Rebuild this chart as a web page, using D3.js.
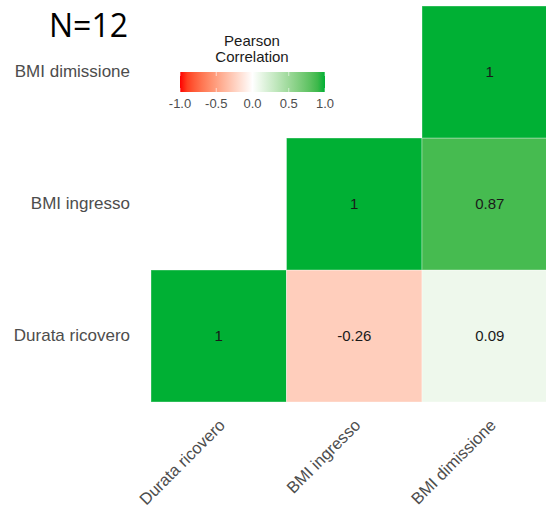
<!DOCTYPE html>
<html>
<head>
<meta charset="utf-8">
<script src="https://cdn.jsdelivr.net/npm/d3@7"></script>
<style>
  html, body { margin: 0; padding: 0; background: #fff; }
  svg { display: block; }
</style>
</head>
<body>
<svg id="chart" width="546" height="513"></svg>
<script>
// Variables of the correlation matrix (x left→right, y bottom→top)
const variables = ["Durata ricovero", "BMI ingresso", "BMI dimissione"];
// Upper-triangle cells: column variable, row variable, Pearson r
const cellX = ["Durata ricovero", "BMI ingresso", "BMI dimissione", "BMI ingresso", "BMI dimissione", "BMI dimissione"];
const cellY = ["Durata ricovero", "Durata ricovero", "Durata ricovero", "BMI ingresso", "BMI ingresso", "BMI dimissione"];
const cellR = [1, -0.26, 0.09, 1, 0.87, 1];
const legendTicks = [-1.0, -0.5, 0.0, 0.5, 1.0];
const sampleLabel = "N=12";

const cells = cellR.map((r, i) => ({ x: cellX[i], y: cellY[i], r }));

const svg = d3.select("#chart");
const textGrey = "#4d4d4d";
const font = "'Liberation Sans', Arial, sans-serif";
const hyphen = s => s.replace("\u2212", "-");

const x = d3.scaleBand().domain(variables).range([151, 557.5]).padding(0);
const y = d3.scaleBand().domain(variables).range([402, 6]).padding(0);

// Diverging fill: red → white → green
const low = "#ff0000", mid = "#ffffff", high = "#00b034";
const negScale = d3.scaleLinear().domain([-1, 0]).range([low, mid]).interpolate(d3.interpolateLab);
const posScale = d3.scaleLinear().domain([0, 1]).range([mid, high]).interpolate(d3.interpolateLab);
const fill = v => v < 0 ? negScale(v) : posScale(v);

// Tiles
svg.append("g").selectAll("rect")
  .data(cells).join("rect")
  .attr("x", d => x(d.x))
  .attr("y", d => y(d.y))
  .attr("width", x.bandwidth())
  .attr("height", y.bandwidth())
  .attr("fill", d => fill(d.r))
  .attr("stroke", "#ffffff")
  .attr("stroke-opacity", 0.35)
  .attr("stroke-width", 1);

// Coefficient labels
svg.append("g").selectAll("text")
  .data(cells).join("text")
  .attr("x", d => x(d.x) + x.bandwidth() / 2)
  .attr("y", d => y(d.y) + y.bandwidth() / 2)
  .attr("dy", "0.35em")
  .attr("text-anchor", "middle")
  .attr("font-family", font)
  .attr("font-size", 15)
  .attr("fill", "#1a1a1a")
  .text(d => d.r === 1 ? "1" : hyphen(d3.format(".2f")(d.r)));

// Y axis labels
const yAxis = d3.axisLeft(y).tickSize(0).tickPadding(0);
const gy = svg.append("g").attr("transform", "translate(130,0)").call(yAxis);
gy.select(".domain").remove();
gy.selectAll("text")
  .attr("font-family", font)
  .attr("font-size", 17)
  .attr("fill", textGrey);

// X axis labels, rotated 45°
const gx = svg.append("g");
gx.selectAll("text")
  .data(variables).join("text")
  .attr("transform", d => `translate(${x(d) + x.bandwidth() / 2 - 1},${418}) rotate(-45)`)
  .attr("text-anchor", "end")
  .attr("dy", "0.71em")
  .attr("font-family", font)
  .attr("font-size", 16.5)
  .attr("fill", textGrey)
  .text(d => d);

// Sample size
svg.append("text")
  .attr("x", 49)
  .attr("y", 37)
  .attr("font-family", "'Open Sans', 'Liberation Sans', sans-serif")
  .attr("font-size", 32)
  .attr("fill", "#000")
  .text(sampleLabel);

// Colour bar legend
const lx0 = 180, lx1 = 325, ly0 = 72, ly1 = 92;
const lScale = d3.scaleLinear().domain([-1, 1]).range([lx0, lx1]);
const defs = svg.append("defs");
const grad = defs.append("linearGradient").attr("id", "corrGrad")
  .attr("x1", "0%").attr("x2", "100%").attr("y1", "0%").attr("y2", "0%");
d3.range(0, 21).forEach(i => {
  const v = -1 + i * 0.1;
  grad.append("stop").attr("offset", `${i * 5}%`).attr("stop-color", fill(v));
});
svg.append("rect")
  .attr("x", lx0).attr("y", ly0)
  .attr("width", lx1 - lx0).attr("height", ly1 - ly0)
  .attr("fill", "url(#corrGrad)");

const lt = svg.append("g");
legendTicks.forEach(t => {
  lt.append("line").attr("x1", lScale(t)).attr("x2", lScale(t))
    .attr("y1", ly0).attr("y2", ly0 + 4).attr("stroke", "#fff").attr("stroke-opacity", 0.6);
  lt.append("line").attr("x1", lScale(t)).attr("x2", lScale(t))
    .attr("y1", ly1 - 4).attr("y2", ly1).attr("stroke", "#fff").attr("stroke-opacity", 0.6);
});
lt.selectAll("text.tick")
  .data(legendTicks).join("text")
  .attr("class", "tick")
  .attr("x", d => lScale(d))
  .attr("y", 108)
  .attr("text-anchor", "middle")
  .attr("font-family", font)
  .attr("font-size", 13)
  .attr("fill", textGrey)
  .text(d => hyphen(d3.format(".1f")(d)));

svg.append("text")
  .attr("x", 252).attr("y", 46)
  .attr("text-anchor", "middle")
  .attr("font-family", font).attr("font-size", 15).attr("fill", "#1a1a1a")
  .text("Pearson");
svg.append("text")
  .attr("x", 252).attr("y", 62)
  .attr("text-anchor", "middle")
  .attr("font-family", font).attr("font-size", 15).attr("fill", "#1a1a1a")
  .text("Correlation");
</script>
</body>
</html>
